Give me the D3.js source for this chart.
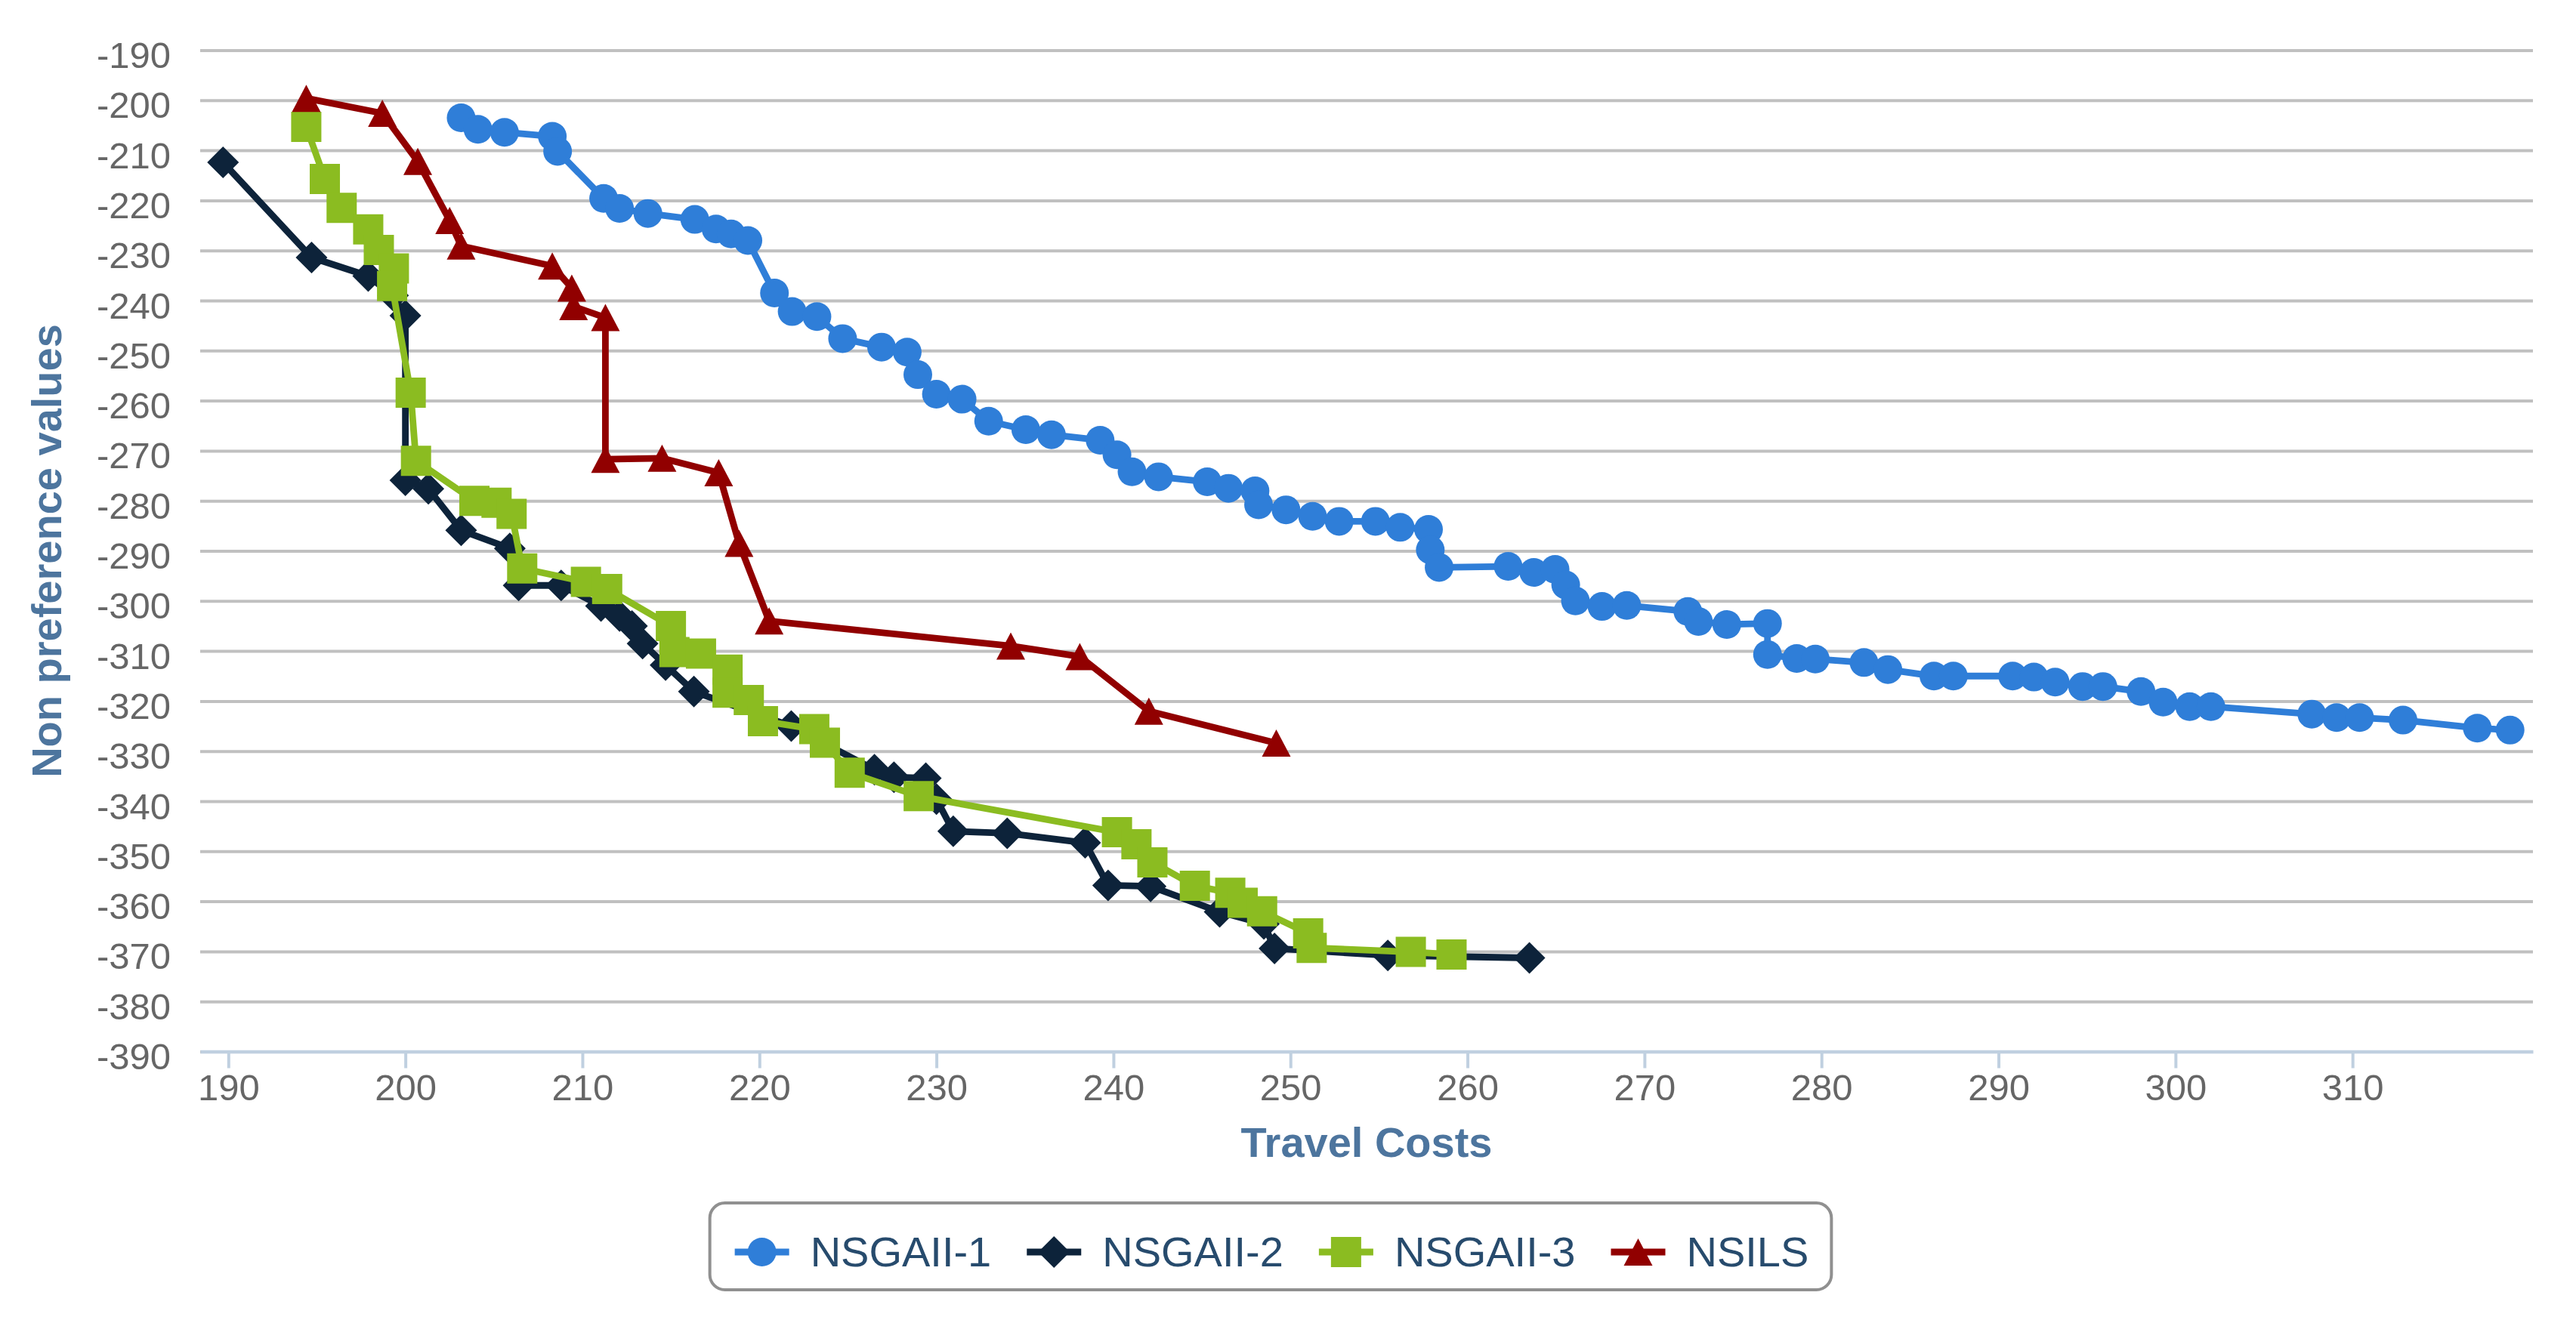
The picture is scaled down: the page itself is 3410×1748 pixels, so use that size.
<!DOCTYPE html>
<html lang="en">
<head>
    <meta charset="utf-8" />
    <style>
        body {margin:0; background:#fff;}
        svg {display:block; font-family:"Liberation Sans", Arial, sans-serif;}
    </style>
    <script src="https://cdn.jsdelivr.net/npm/d3@7"></script>
</head>
<body>
    <svg></svg>
<script>
    var width = 3410,
        height = 1748,
        margin = {top: 66.5, right: 57, bottom: 355.5, left: 265};

    var plotW = width - margin.left - margin.right,
        plotH = height - margin.top - margin.bottom;

    // values: [travel cost, non preference value]
    var nsga1 = [[203.15,-203.5],[204.1,-205.8],[205.6,-206.4],[208.3,-207.2],[208.6,-210.2],[211.2,-219.6],[212.1,-221.6],
        [213.7,-222.6],[216.35,-223.8],[217.55,-225.7],[218.4,-226.7],[219.35,-228.0],[220.85,-238.5],[221.85,-242.2],
        [223.25,-243.2],[224.7,-247.6],[226.9,-249.3],[228.35,-250.3],[228.95,-254.8],[230.0,-258.7],[231.45,-259.7],
        [232.95,-264.1],[235.05,-265.8],[236.5,-266.8],[239.25,-267.9],[240.2,-270.8],[241.05,-274.2],[242.55,-275.2],
        [245.3,-276.2],[246.5,-277.5],[248.0,-278.0],[248.2,-280.8],[249.75,-281.8],[251.25,-283.1],[252.75,-284.1],
        [254.8,-284.1],[256.2,-285.3],[257.8,-285.7],[257.9,-289.8],[258.4,-293.3],[262.3,-293.1],[263.75,-294.3],
        [264.95,-293.7],[265.55,-296.8],[266.1,-300.0],[267.6,-301.1],[269.0,-300.9],[272.45,-302.1],[273.05,-304.1],
        [274.65,-304.7],[276.95,-304.5],[276.95,-310.7],[278.6,-311.5],[279.65,-311.6],[282.4,-312.3],[283.75,-313.7],
        [286.35,-315.0],[287.45,-315.0],[290.8,-315.0],[292.0,-315.2],[293.2,-316.2],[294.75,-317.1],[295.9,-317.1],
        [298.05,-318.1],[299.3,-320.2],[300.8,-321.1],[302.0,-321.1],[307.7,-322.6],[309.1,-323.3],[310.4,-323.3],
        [312.85,-323.8],[317.05,-325.4],[318.9,-325.8]];

    var nsga2 = [[189.7,-212.4],[194.7,-231.4],[197.9,-235.1],[199.3,-239.0],[200.0,-243.0],[200.0,-275.9],[201.3,-277.6],
        [203.15,-285.9],[205.9,-289.5],[206.4,-296.9],[208.8,-296.9],[211.05,-301.0],[212.1,-303.0],[212.8,-305.0],
        [213.4,-308.5],[214.7,-312.8],[216.3,-318.1],[221.8,-325.0],[226.5,-333.7],[227.6,-335.2],[229.4,-335.4],
        [230.0,-339.6],[230.95,-346.0],[234.0,-346.4],[238.4,-348.3],[239.7,-356.8],[242.1,-357.0],[246.0,-362.1],
        [248.5,-364.5],[249.1,-369.4],[255.5,-370.8],[263.5,-371.3]];

    var nsga3 = [[194.4,-205.3],[195.45,-215.7],[196.4,-221.5],[197.9,-225.8],[198.5,-229.9],[199.35,-233.6],[199.25,-237.1],
        [200.3,-258.4],[200.6,-272.0],[203.9,-280.0],[205.15,-280.4],[206.0,-282.6],[206.6,-293.5],[210.2,-296.2],
        [211.4,-297.6],[215.0,-305.0],[215.2,-310.2],[216.7,-310.5],[218.2,-313.7],[218.2,-318.3],[219.4,-319.8],
        [220.2,-324.0],[223.1,-325.6],[223.7,-328.3],[225.1,-334.3],[229.0,-339.0],[240.2,-346.2],[241.3,-348.6],
        [242.2,-352.2],[244.6,-356.9],[246.6,-358.3],[247.3,-360.3],[248.4,-362.0],[251.0,-366.4],[251.2,-369.3],
        [256.8,-370.1],[259.1,-370.6]];

    var nsils = [[194.4,-199.6],[198.7,-202.6],[200.7,-212.2],[202.5,-224.0],[203.15,-229.1],[208.3,-233.1],[209.4,-237.5],
        [209.5,-241.2],[211.3,-243.4],[211.3,-271.7],[214.5,-271.5],[217.7,-274.4],[218.85,-288.5],[220.55,-304.0],
        [234.2,-309.0],[238.1,-311.1],[242.0,-322.0],[249.2,-328.4]];

    var seriesNames = ["NSGAII-1", "NSGAII-2", "NSGAII-3", "NSILS"];
    var xTicks = [190, 200, 210, 220, 230, 240, 250, 260, 270, 280, 290, 300, 310];
    var yTicks = [-390, -380, -370, -360, -350, -340, -330, -320, -310, -300, -290, -280, -270,
                  -260, -250, -240, -230, -220, -210, -200, -190];
    var xTitle = "Travel Costs",
        yTitle = "Non preference values";

    var colors = ["#2f7ed8", "#0d233a", "#8bbc21", "#910000"];
    var markers = ["circle", "diamond", "square", "triangle"];

    var series = seriesNames.map(function(name, i) {
        return {name: name, values: [nsga1, nsga2, nsga3, nsils][i], color: colors[i], marker: markers[i]};
    });

    // x range padded by 1% like the original chart
    var allX = [].concat(nsga1, nsga2, nsga3, nsils).map(function(d) {return d[0]});
    var ext = d3.extent(allX), pad = (ext[1] - ext[0]) * 0.01;

    var x = d3.scaleLinear().domain([ext[0] - pad, ext[1] + pad]).range([0, plotW]);
    var y = d3.scaleLinear().domain([-390, -190]).range([plotH, 0]);

    // plain hyphen for negatives, as in the original
    var plain = function(d) {return String(d)};

    var svg = d3.select("svg")
        .attr("width", width)
        .attr("height", height);

    var g = svg.append("g")
        .attr("transform", "translate(" + margin.left + "," + margin.top + ")");

    // y axis with grid lines
    var yAxis = g.append("g")
        .call(d3.axisLeft(y).tickValues(yTicks).tickFormat(plain).tickSize(-plotW).tickPadding(39));
    yAxis.select(".domain").remove();
    yAxis.selectAll(".tick line").attr("stroke", "#c0c0c0").attr("stroke-width", 4);
    yAxis.selectAll(".tick text")
        .attr("fill", "#666")
        .attr("font-size", 49)
        .attr("font-family", "Liberation Sans, Arial, sans-serif")
        .attr("dy", "0.47em");

    // x axis
    var xAxis = g.append("g")
        .attr("transform", "translate(0," + plotH + ")")
        .call(d3.axisBottom(x).tickValues(xTicks).tickFormat(plain).tickSize(22).tickPadding(7.5).tickSizeOuter(0));
    xAxis.select(".domain").attr("stroke", "#c0d0e0").attr("stroke-width", 4.4);
    xAxis.selectAll(".tick line").attr("stroke", "#c0d0e0").attr("stroke-width", 4);
    xAxis.selectAll(".tick text")
        .attr("fill", "#666")
        .attr("font-size", 49)
        .attr("font-family", "Liberation Sans, Arial, sans-serif");

    // axis titles
    svg.append("text")
        .attr("x", margin.left + plotW / 2)
        .attr("y", 1532)
        .attr("text-anchor", "middle")
        .attr("font-size", 56)
        .attr("font-weight", "bold")
        .attr("fill", "#4d759e")
        .text(xTitle);

    svg.append("text")
        .attr("transform", "translate(81," + (margin.top + plotH / 2) + ") rotate(-90)")
        .attr("text-anchor", "middle")
        .attr("font-size", 56)
        .attr("font-weight", "bold")
        .attr("fill", "#4d759e")
        .text(yTitle);

    function markerPath(type) {
        if (type == "circle") return d3.symbol(d3.symbolCircle, Math.PI * 19 * 19)();
        if (type == "diamond") return "M0,-21L21,0L0,21L-21,0Z";
        if (type == "square") return "M-20,-20h40v40h-40Z";
        return "M0,-18L19,18L-19,18Z";
    }

    var line = d3.line()
        .x(function(d) {return x(d[0])})
        .y(function(d) {return y(d[1])});

    var groups = g.selectAll(".series")
        .data(series)
      .enter().append("g")
        .attr("class", "series");

    groups.append("path")
        .attr("d", function(d) {return line(d.values)})
        .attr("fill", "none")
        .attr("stroke", function(d) {return d.color})
        .attr("stroke-width", 8.8)
        .attr("stroke-linejoin", "round")
        .attr("stroke-linecap", "round");

    groups.each(function(s) {
        d3.select(this).selectAll(".pt")
            .data(s.values)
          .enter().append("path")
            .attr("class", "pt")
            .attr("d", markerPath(s.marker))
            .attr("fill", s.color)
            .attr("transform", function(d) {return "translate(" + x(d[0]) + "," + y(d[1]) + ")"});
    });

    // legend
    var legend = svg.append("g");
    var box = legend.append("rect")
        .attr("fill", "#fff")
        .attr("stroke", "#909090")
        .attr("stroke-width", 4)
        .attr("rx", 20);

    var itemX = 0, lastEnd = 0;
    series.forEach(function(s) {
        var it = legend.append("g").attr("transform", "translate(" + itemX + ",0)");
        it.append("line")
            .attr("x1", 0).attr("x2", 72)
            .attr("y1", 1658).attr("y2", 1658)
            .attr("stroke", s.color)
            .attr("stroke-width", 8.8);
        it.append("path")
            .attr("d", markerPath(s.marker))
            .attr("fill", s.color)
            .attr("transform", "translate(36,1658)");
        var t = it.append("text")
            .attr("x", 100)
            .attr("y", 1677)
            .attr("font-size", 56)
            .attr("fill", "#274b6d")
            .text(s.name);
        var w = t.node().getComputedTextLength();
        lastEnd = itemX + 100 + w;
        itemX = lastEnd + 47;
    });

    var boxW = lastEnd + 33 + 30;
    var boxLeft = 1682 - boxW / 2;
    box.attr("x", -33).attr("y", 1593).attr("width", boxW).attr("height", 115);
    legend.attr("transform", "translate(" + (boxLeft + 33) + ",0)");
</script>
</body>
</html>
